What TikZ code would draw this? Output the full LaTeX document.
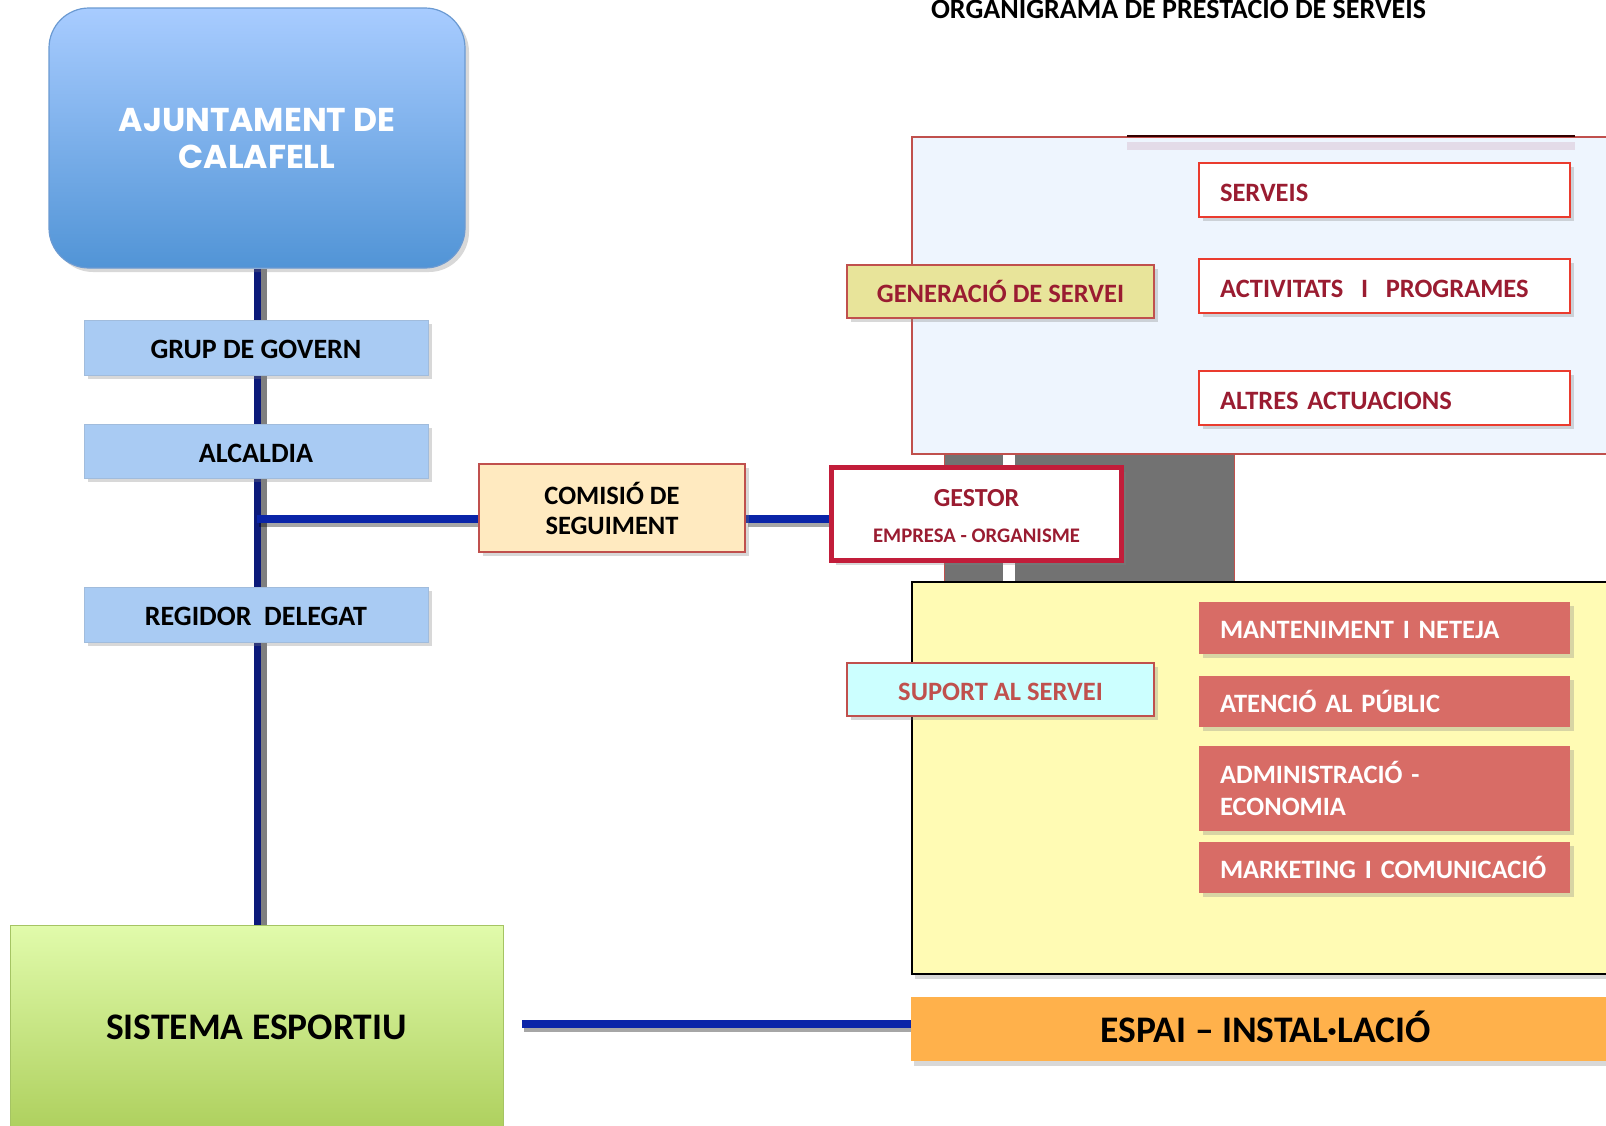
\documentclass[tikz,border=0pt]{standalone}
\usepackage{fontspec}
\setmainfont{Carlito}
\newfontfamily\popfont{Poppins}
\usetikzlibrary{shadows}
\definecolor{ajtop}{HTML}{A8CCFF}
\definecolor{ajbot}{HTML}{5194D6}
\definecolor{ajline}{HTML}{6B9AD2}
\definecolor{lblue}{HTML}{A9CBF3}
\definecolor{navy}{HTML}{0C1A7A}
\definecolor{hblue}{HTML}{0A24A8}
\definecolor{peach}{HTML}{FFEAC0}
\definecolor{softred}{HTML}{C0504D}
\definecolor{crimson}{HTML}{C21D3A}
\definecolor{wine}{HTML}{9A1C31}
\definecolor{brightred}{HTML}{EA3B2E}
\definecolor{khaki}{HTML}{E8E49A}
\definecolor{paleblue}{HTML}{EEF5FE}
\definecolor{lavender}{HTML}{E3DBE8}
\definecolor{cyanish}{HTML}{CCFFFF}
\definecolor{salmon}{HTML}{D86C66}
\definecolor{paleyellow}{HTML}{FFFBB4}
\definecolor{orangebox}{HTML}{FFB14B}
\definecolor{grtop}{HTML}{E1FBAB}
\definecolor{grbot}{HTML}{AED05E}
\definecolor{grline}{HTML}{A5C463}
\definecolor{graybar}{HTML}{727272}
\pgfdeclarelayer{background}
\pgfdeclarelayer{canvas}
\pgfsetlayers{canvas,background,main}
\begin{document}
\begin{tikzpicture}[x=1pt,y=-1pt,
  shd/.style={drop shadow={shadow xshift=4pt,shadow yshift=-4pt,opacity=0.3}},
  ajbox/.style={draw=ajline,line width=1.2pt,rounded corners=40pt,top color=ajtop,bottom color=ajbot,
    minimum width=416pt,minimum height=260pt,align=center,text=white,
    font=\popfont\bfseries\fontsize{33}{37}\selectfont,shd},
  lbox/.style={fill=lblue,draw=lblue!80!gray,line width=0.6pt,minimum width=344pt,minimum height=55pt,
    font=\bfseries\fontsize{28}{32}\selectfont,text height=22pt,text depth=0pt,shd},
  combox/.style={fill=peach,draw=softred,line width=1.2pt,minimum width=266pt,minimum height=88pt,
    align=center,font=\bfseries\fontsize{26.5}{30}\selectfont,shd},
  gestbox/.style={fill=white,draw=crimson,line width=5pt,minimum width=290pt,minimum height=93pt,shd},
  rbox/.style={fill=white,draw=brightred,line width=2.2pt,minimum width=371pt,minimum height=54pt,
    text width=329pt,inner xsep=21pt,align=left,text=wine,
    font=\bfseries\fontsize{26.5}{30}\selectfont,text height=22pt,text depth=0pt,shd},
  sbox/.style={fill=salmon,minimum width=371pt,text width=329pt,inner xsep=21pt,align=left,text=white,
    font=\bfseries\fontsize{26.5}{32}\selectfont,shd},
  one/.style={text height=21pt,text depth=0pt},
  midbox/.style={draw=softred,line width=1.2pt,minimum width=307pt,minimum height=53pt,
    font=\bfseries\fontsize{26.5}{30}\selectfont,text height=21pt,text depth=0pt,shd},
  navyline/.style={draw=navy,line width=7pt},
  vshadow/.style={draw=black,opacity=0.5,line width=8pt},
  hline/.style={draw=hblue,line width=8pt},
  hshadow/.style={draw=black,opacity=0.35,line width=8pt}
]
\useasboundingbox (0,0) rectangle (1606,1125);
\begin{pgfonlayer}{canvas}
\fill[white] (0,0) rectangle (1606,1125);
\end{pgfonlayer}

% title
\node[anchor=base,font=\bfseries\fontsize{28}{32}\selectfont,inner sep=0pt] (title) at (1178.5,18.5)
  {ORGANIGRAMA DE PRESTACIÓ DE SERVEIS};

% left column
\node[ajbox] (ajunt) at (257,138) {AJUNTAMENT DE\\CALAFELL};
\node[lbox] (grup) at (256,347.5) {GRUP DE GOVERN};
\node[lbox,minimum height=54pt] (alcaldia) at (256,451) {ALCALDIA};
\node[lbox] (regidor) at (256,614.5) {REGIDOR\ \ DELEGAT};
\node[combox] (comision) at (612,508) {COMISIÓ DE\\SEGUIMENT};
\node[top color=grtop,bottom color=grbot,draw=grline,line width=1pt,minimum width=493pt,minimum height=204pt,
  font=\bfseries\fontsize{37.5}{40}\selectfont,text height=24pt,text depth=0pt] (sistema) at (256.5,1027) {SISTEMA ESPORTIU};

% gray block behind gestor
\fill[graybar,draw=softred,line width=0.8pt] (944,440) rectangle (1234,590);
\fill[white] (1003,440) rectangle (1015,590);

% generation panel
\node[draw=softred,line width=2pt,fill=paleblue,minimum width=709pt,minimum height=317pt,
  anchor=north west,inner sep=0pt] (genpanel) at (911,136) {};
\fill[lavender] (1127,142) rectangle (1575,149.5);
\draw[black!80!red,line width=1.5pt] (1127,136) -- (1575,136);
\node[rbox] (serveis) at (1384.5,190) {SERVEIS};
\node[rbox] (activ) at (1384.5,286) {ACTIVITATS\ \ I\ \ PROGRAMES};
\node[rbox] (altres) at (1384.5,398) {ALTRES ACTUACIONS};
\node[midbox,fill=khaki,text=wine] (generacio) at (1000.5,291.5) {GENERACIÓ DE SERVEI};

% support panel
\node[draw=black,line width=2pt,fill=paleyellow,minimum width=709pt,minimum height=392pt,
  anchor=north west,inner sep=0pt,drop shadow={shadow xshift=3pt,shadow yshift=-5pt,opacity=0.3}] (suppanel) at (911,581) {};
\node[sbox,minimum height=52pt,one] (mant) at (1384.5,628) {MANTENIMENT I NETEJA};
\node[sbox,minimum height=51pt,one] (atencio) at (1384.5,701.5) {ATENCIÓ AL PÚBLIC};
\node[sbox,minimum height=85pt] (admin) at (1384.5,788.5) {ADMINISTRACIÓ -\\ECONOMIA};
\node[sbox,minimum height=51pt,one] (mkt) at (1384.5,867.5) {MARKETING I COMUNICACIÓ};
\node[midbox,fill=cyanish,text=softred] (suport) at (1000.5,689.5) {SUPORT AL SERVEI};

% gestor
\node[gestbox] (gestor) at (976.5,514) {};
\node[anchor=base,inner sep=0pt,text=wine,font=\bfseries\fontsize{26}{30}\selectfont] (gestorA)
  at ([yshift=7.6pt]gestor.center) {GESTOR};
\node[anchor=base,inner sep=0pt,text=wine,font=\bfseries\fontsize{20.7}{24}\selectfont] (gestorB)
  at ([yshift=-28.4pt]gestor.center) {EMPRESA - ORGANISME};

% espai
\node[fill=orangebox,minimum width=709pt,minimum height=64pt,anchor=north west,inner sep=0pt,
  drop shadow={shadow xshift=3pt,shadow yshift=-5pt,opacity=0.3}] (espai) at (911,997) {};
\node[font=\bfseries\fontsize{37.5}{40}\selectfont,text height=24pt,text depth=0pt] (espaiT)
  at ([yshift=-1pt]espai.center) {ESPAI – INSTAL·LACIÓ};

% connectors
\coordinate (j1) at (256.5,519);
\coordinate (s1) at (522,1024);
\begin{pgfonlayer}{background}
  \draw[vshadow] ([xshift=6pt]ajunt.south) -- ([xshift=6pt]ajunt.south |- sistema.north);
  \draw[navyline] (ajunt.south) -- (ajunt.south |- sistema.north);
  \draw[hshadow] ([shift={(2,4)}]j1) -- ([shift={(2,4)}]j1 -| comision.west);
  \draw[hshadow] ([shift={(2,4)}]j1 -| comision.east) -- ([shift={(2,4)}]j1 -| gestor.west);
  \draw[hline] (j1) -- (j1 -| comision.west);
  \draw[hline] (j1 -| comision.east) -- (j1 -| gestor.west);
  \draw[hshadow] ([shift={(2,4)}]s1) -- ([shift={(2,4)}]s1 -| espai.west);
  \draw[hline] (s1) -- (s1 -| espai.west);
\end{pgfonlayer}
\end{tikzpicture}
\end{document}
